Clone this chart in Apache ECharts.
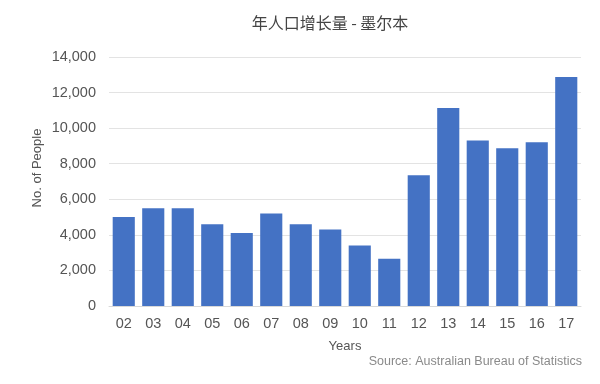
<!DOCTYPE html>
<html><head><meta charset="utf-8">
<script src="https://cdn.jsdelivr.net/npm/echarts@6/dist/echarts.min.js"></script>
<style>html,body{margin:0;padding:0;background:#fff}#c{width:600px;height:384px}</style>
</head><body><div id="c"></div>
<script>
var categories = ['02','03','04','05','06','07','08','09','10','11','12','13','14','15','16','17'];
var values = [5000,5500,5500,4600,4100,5200,4600,4300,3400,2650,7350,11130,9300,8870,9200,12870];
var chart = echarts.init(document.getElementById('c'));
chart.setOption({
  animation:false,
  title:[{text:'年人口增长量 - 墨尔本',left:325,textAlign:'center',top:10,
    textStyle:{fontFamily:'Noto Sans CJK SC',fontSize:16,fontWeight:'normal',color:'#444'}},
    {text:'Source: Australian Bureau of Statistics',right:13,top:350,
    textStyle:{fontFamily:'Liberation Sans',fontSize:12.5,fontWeight:'normal',color:'#8a8a8a'}}],
  graphic:[{type:'text',x:37,y:168,rotation:Math.PI/2,
    style:{text:'No. of People',fontFamily:'Liberation Sans',fontSize:13,fill:'#555',
      textAlign:'center',textVerticalAlign:'middle'}}],
  grid:{left:109,right:19,top:57,bottom:78},
  xAxis:{type:'category',data:categories,name:'Years',nameLocation:'middle',nameGap:34,
    nameTextStyle:{fontFamily:'Liberation Sans',fontSize:13,color:'#555'},
    axisLine:{lineStyle:{color:'#d9d9d9'}},axisTick:{show:false},
    axisLabel:{fontFamily:'Liberation Sans',fontSize:14.5,color:'#555',margin:10}},
  yAxis:{type:'value',min:0,max:14000,interval:2000,
    axisLine:{show:false},axisTick:{show:false},
    axisLabel:{fontFamily:'Liberation Sans',fontSize:14.5,color:'#555',margin:13,
      formatter:function(v){return v.toLocaleString('en-US');}},
    splitLine:{lineStyle:{color:'#e3e3e3'}}},
  series:[{type:'bar',data:values,barCategoryGap:'25%',itemStyle:{color:'#4472c4'}}]
});
</script></body></html>
